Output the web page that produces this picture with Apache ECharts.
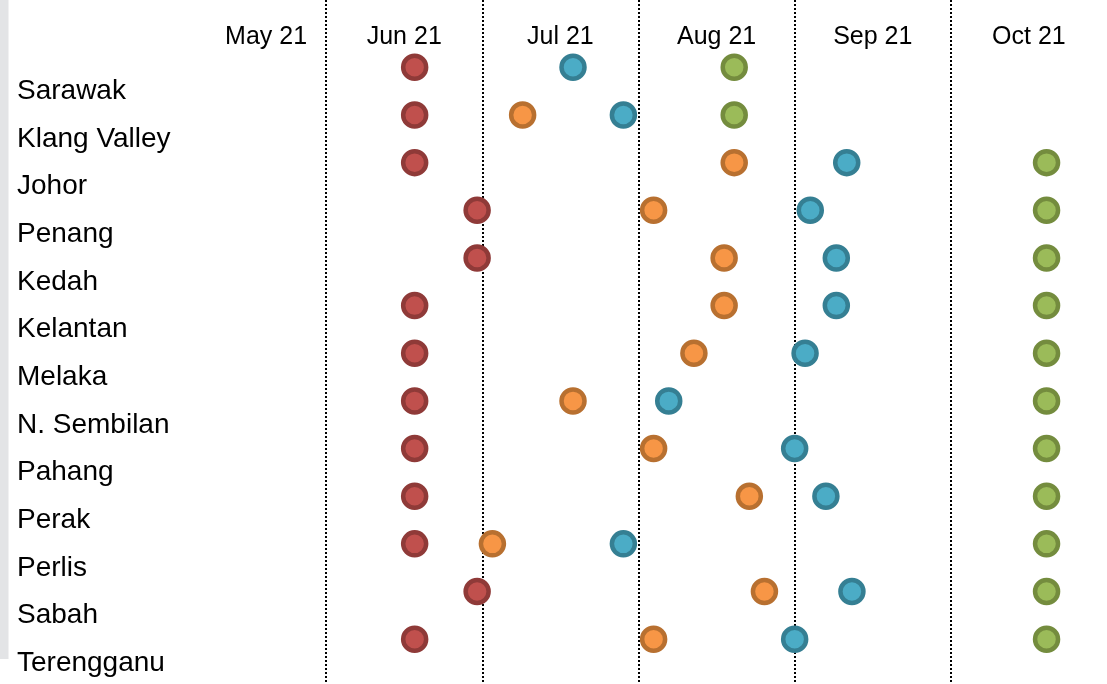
<!DOCTYPE html>
<html>
<head>
<meta charset="utf-8">
<script src="https://cdn.jsdelivr.net/npm/echarts@6/dist/echarts.min.js"></script>
<style>
  html, body { margin: 0; padding: 0; background: #ffffff; }
  #chart { width: 1107px; height: 684px; }
</style>
</head>
<body>
<div id="chart"></div>
<script>
// ---- data ----
const regions = ['Sarawak', 'Klang Valley', 'Johor', 'Penang', 'Kedah', 'Kelantan', 'Melaka',
                 'N. Sembilan', 'Pahang', 'Perak', 'Perlis', 'Sabah', 'Terengganu'];
const monthLabels = ['May 21', 'Jun 21', 'Jul 21', 'Aug 21', 'Sep 21', 'Oct 21'];
const phase1 = ['2021-06-18', '2021-06-18', '2021-06-18', '2021-06-30', '2021-06-30', '2021-06-18', '2021-06-18',
                '2021-06-18', '2021-06-18', '2021-06-18', '2021-06-18', '2021-06-30', '2021-06-18'];
const phase2 = [null, '2021-07-09', '2021-08-20', '2021-08-04', '2021-08-18', '2021-08-18', '2021-08-12',
                '2021-07-19', '2021-08-04', '2021-08-23', '2021-07-03', '2021-08-26', '2021-08-04'];
const phase3 = ['2021-07-19', '2021-07-29', '2021-09-11', '2021-09-04', '2021-09-09', '2021-09-09', '2021-09-03',
                '2021-08-07', '2021-09-01', '2021-09-07', '2021-07-29', '2021-09-12', '2021-09-01'];
const phase4 = ['2021-08-20', '2021-08-20', '2021-10-20', '2021-10-20', '2021-10-20', '2021-10-20', '2021-10-20',
                '2021-10-20', '2021-10-20', '2021-10-20', '2021-10-20', '2021-10-20', '2021-10-20'];

// ---- helpers ----
// month axis: 0 = 1 May 2021, each calendar month is one unit wide
function toMonths(s) {
  const p = s.split('-').map(Number);
  const dim = new Date(Date.UTC(p[0], p[1], 0)).getUTCDate();
  return (p[0] - 2021) * 12 + (p[1] - 5) + (p[2] - 1) / dim;
}
const xMin = 0, xMax = 6, xViewStart = 0.23;
const labelPos = monthLabels.map((m, i) => (Math.max(i, xViewStart) + i + 1) / 2);

const FONT = '"Liberation Sans", Arial, Helvetica, sans-serif';
const GRID_LEFT = 170;

function mkSeries(name, dates, fill, border) {
  return {
    name: name,
    type: 'scatter',
    xAxisIndex: 1,
    yAxisIndex: 0,
    symbol: 'circle',
    symbolSize: 23,
    itemStyle: { color: fill, borderColor: border, borderWidth: 4.5, opacity: 1 },
    emphasis: { disabled: true },
    data: regions.map((r, i) => dates[i] ? [toMonths(dates[i]), r] : null).filter(d => d)
  };
}

const chart = echarts.init(document.getElementById('chart'), null, { renderer: 'canvas' });
chart.setOption({
  animation: false,
  backgroundColor: '#ffffff',
  graphic: [{
    type: 'rect', left: 0, top: 0, silent: true,
    shape: { width: 8.5, height: 659 },
    style: { fill: '#e3e4e6' }
  }],
  grid: [
    { left: GRID_LEFT, right: 0, top: 0, bottom: 0 },
    { left: GRID_LEFT, right: 0, top: 43.5, bottom: 21 }
  ],
  xAxis: [
    {
      gridIndex: 0, type: 'value', position: 'top',
      min: xMin, max: xMax, interval: 1,
      axisLine: { show: false }, axisTick: { show: false },
      splitLine: { show: true, showMinLine: false, showMaxLine: false,
                   lineStyle: { color: '#000000', width: 2, type: [2, 2] } },
      axisLabel: {
        show: true, inside: true, margin: 37.5, customValues: labelPos,
        verticalAlign: 'middle', align: 'center',
        fontFamily: FONT, fontSize: 25, color: '#000000',
        formatter: function (v) { return monthLabels[Math.floor(v)] || ''; }
      }
    },
    {
      gridIndex: 1, type: 'value', min: xMin, max: xMax, interval: 1, show: false,
      splitLine: { show: false }
    }
  ],
  yAxis: [
    {
      gridIndex: 1, type: 'category', data: regions, inverse: true,
      axisLine: { show: false }, axisTick: { show: false }, splitLine: { show: false },
      axisLabel: {
        show: true, interval: 0, align: 'left', margin: GRID_LEFT - 17,
        verticalAlign: 'top', lineHeight: 28, padding: [10, 0, 0, 0],
        fontFamily: FONT, fontSize: 28, color: '#000000'
      }
    },
    { gridIndex: 0, type: 'value', show: false, splitLine: { show: false } }
  ],
  series: [
    mkSeries('Phase 1', phase1, '#c0504d', '#8f3a38'),
    mkSeries('Phase 2', phase2, '#f79646', '#b87030'),
    mkSeries('Phase 3', phase3, '#4bacc6', '#357f93'),
    mkSeries('Phase 4', phase4, '#9bbb59', '#748c3e')
  ]
});
</script>
</body>
</html>
